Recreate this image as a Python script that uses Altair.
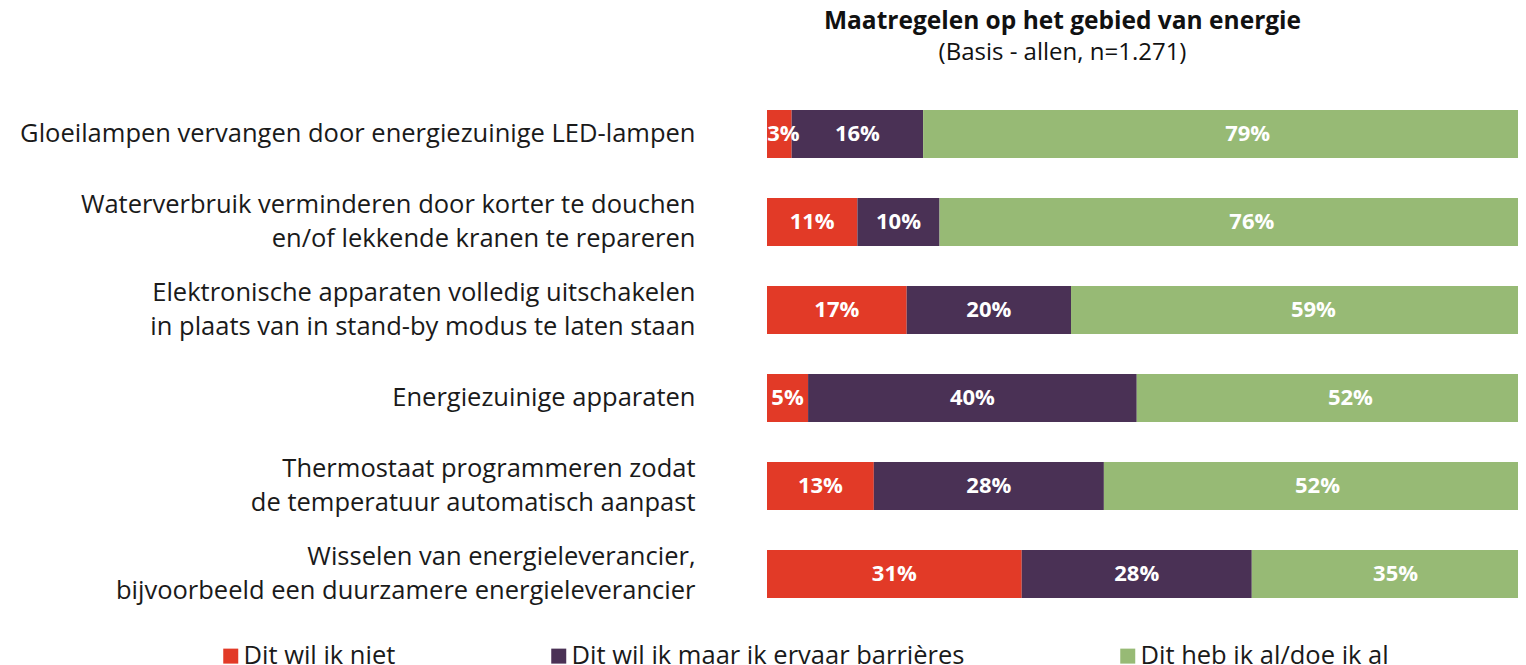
import altair as alt
import pandas as pd

FONT = "Open Sans"

categories = [
    "Gloeilampen vervangen door energiezuinige LED-lampen",
    "Waterverbruik verminderen door korter te douchen|en/of lekkende kranen te repareren",
    "Elektronische apparaten volledig uitschakelen|in plaats van in stand-by modus te laten staan",
    "Energiezuinige apparaten",
    "Thermostaat programmeren zodat|de temperatuur automatisch aanpast",
    "Wisselen van energieleverancier,|bijvoorbeeld een duurzamere energieleverancier",
]
series = ["Dit wil ik niet", "Dit wil ik maar ik ervaar barrières", "Dit heb ik al/doe ik al"]
wil_niet = [3, 11, 17, 5, 13, 31]
barrieres = [16, 10, 20, 40, 28, 28]
heb_al = [79, 76, 59, 52, 52, 35]
colors = ["#E23A27", "#4A3155", "#97BA75"]

rows = []
for i, cat in enumerate(categories):
    for j, vals in enumerate([wil_niet, barrieres, heb_al]):
        rows.append({"cat": cat, "series": series[j], "order": j, "value": vals[i]})
df = pd.DataFrame(rows)

base = alt.Chart(df).transform_stack(
    stack="value", as_=["x0", "x1"], groupby=["cat"],
    sort=[alt.SortField("order", order="ascending")]
).transform_calculate(
    mid="max((datum.x0 + datum.x1) / 2, 2.0)",
    label="datum.value + '%'"
)

y_enc = alt.Y(
    "cat:N", sort=categories, title=None,
    scale=alt.Scale(paddingInner=0.455, paddingOuter=0.2275),
    axis=alt.Axis(
        labelExpr="split(datum.label, '|')",
        labelFontSize=25.5, labelFont=FONT, labelColor="#1a1a1a",
        labelPadding=72, ticks=False, tickSize=0, domain=False,
        labelLimit=900, labelLineHeight=34, minExtent=759, maxExtent=759,
        labelAlign="right", labelBaseline="middle",
        labelOffset={"condition": {"test": "indexof(datum.value, '|') >= 0", "value": -17}, "value": 0},
    ),
)

xscale = alt.Scale(domain=[0, 91.4], nice=False, zero=True)

bars = base.mark_bar(clip=True).encode(
    y=y_enc,
    x=alt.X("x0:Q", scale=xscale, axis=None),
    x2="x1:Q",
    color=alt.Color(
        "series:N",
        scale=alt.Scale(domain=series, range=colors),
        sort=series,
        legend=alt.Legend(
            orient="none", legendX=-549, legendY=553, direction="horizontal",
            title=None, symbolType="square", symbolSize=225, symbolStrokeWidth=0,
            labelFontSize=25.5, labelFont=FONT, labelColor="#1a1a1a",
            columnPadding=150, labelLimit=700, labelOffset=0,
        ),
    ),
)

text = base.mark_text(color="white", fontWeight="bold", fontSize=22, font=FONT).encode(
    y=alt.Y("cat:N", sort=categories),
    x=alt.X("mid:Q", scale=xscale),
    text="label:N",
)

chart = alt.layer(bars, text).properties(
    width=751,
    height=528,
    padding={"left": 0, "top": 1, "right": 0, "bottom": 0},
    title=alt.TitleParams(
        text="Maatregelen op het gebied van energie",
        subtitle="(Basis - allen, n=1.271)",
        anchor="middle", frame="group", dx=-80,
        fontSize=24.5, fontWeight="bold", font=FONT, color="#111111",
        subtitleFontSize=24, subtitleFont=FONT, subtitleColor="#111111",
        offset=24.5, subtitlePadding=6,
    ),
).configure_view(stroke=None)

chart.save("out.html", embed_options={"renderer": "svg", "actions": False})
